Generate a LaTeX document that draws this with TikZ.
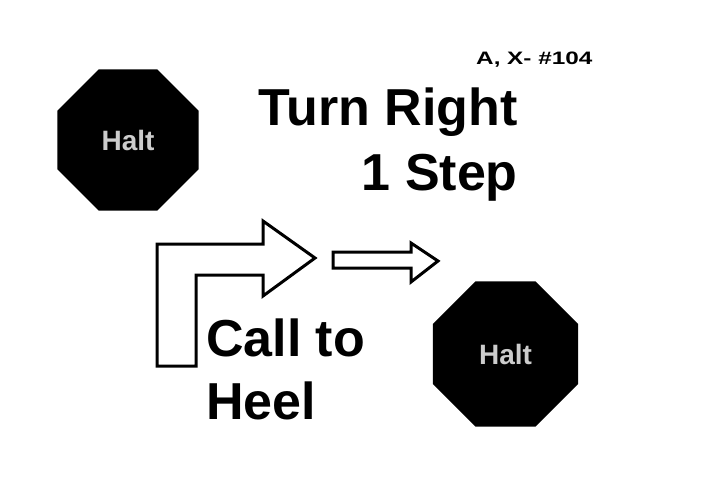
\documentclass[tikz,border=0pt]{standalone}
\usepackage{fontspec}
\setmainfont{Liberation Sans}
\usetikzlibrary{shapes.geometric}
\tikzset{
  stopsign/.style={regular polygon, regular polygon sides=8, fill=black, inner sep=0pt, text=black!20, font=\bfseries\fontsize{28}{30}\selectfont},
  bigtext/.style={inner sep=0pt, font=\bfseries\fontsize{52}{60}\selectfont},
  blockarrow/.style={draw=black, line width=3pt, line join=miter, fill=white}
}
\begin{document}
\begin{tikzpicture}[x=1pt,y=-1pt]
  \useasboundingbox (0,0) rectangle (720,495);
  \node[stopsign, minimum size=153pt] (halta) at (128,140) {Halt};
  \node[stopsign, minimum size=157pt] (haltb) at (505.5,354) {Halt};
  \node[anchor=base west, inner sep=0pt, font=\bfseries\fontsize{18}{20}\selectfont] (code) at (476,65) {\scalebox{1.35}[1]{A, X- \#104}};
  \node[bigtext, anchor=base east] (turn) at (518,125) {Turn Right};
  \node[bigtext, anchor=base east] (step) at (518,190) {1 Step};
  \node[bigtext, anchor=base west] (call) at (206,356) {Call to};
  \node[bigtext, anchor=base west] (heel) at (206,419) {Heel};
  % turn arrow
  \draw[blockarrow] (157,366) -- (157,244) -- (263,244) -- (263,221) -- (315,258) -- (263,296) -- (263,275) -- (196,275) -- (196,366) -- cycle;
  % step arrow
  \draw[blockarrow] (333,252) -- (411,252) -- (411,243) -- (438,261) -- (411,282) -- (411,268) -- (333,268) -- cycle;
\end{tikzpicture}
\end{document}
